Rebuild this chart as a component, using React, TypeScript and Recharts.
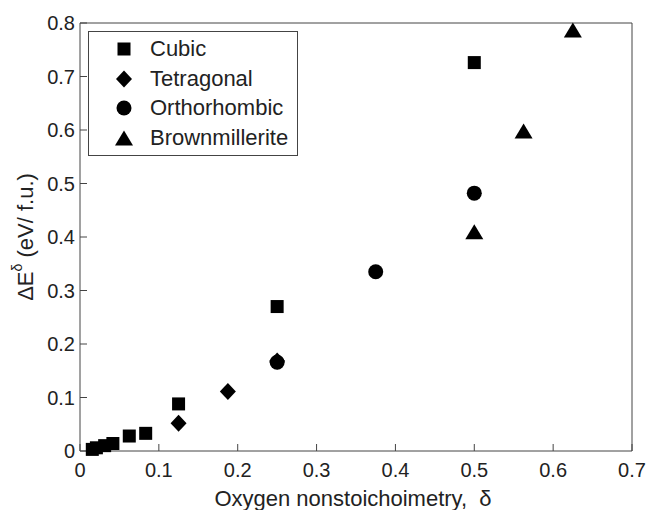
import { Legend, Scatter, ScatterChart, XAxis, YAxis } from "recharts";

const FONT = '"Liberation Sans", Arial, sans-serif';
const INK = "#222";
const AXIS_COLOR = "#444";

const X_TICKS = [0, 0.1, 0.2, 0.3, 0.4, 0.5, 0.6, 0.7];
const Y_TICKS = [0, 0.1, 0.2, 0.3, 0.4, 0.5, 0.6, 0.7, 0.8];

const cubicDelta = [0.0156, 0.0208, 0.03125, 0.0417, 0.0625, 0.0833, 0.125, 0.25, 0.5];
const cubicEnergy = [0.003, 0.006, 0.01, 0.014, 0.028, 0.033, 0.088, 0.27, 0.726];
const tetragonalDelta = [0.125, 0.1875, 0.25];
const tetragonalEnergy = [0.052, 0.111, 0.168];
const orthorhombicDelta = [0.25, 0.375, 0.5];
const orthorhombicEnergy = [0.166, 0.335, 0.482];
const brownmilleriteDelta = [0.5, 0.5625, 0.625];
const brownmilleriteEnergy = [0.41, 0.598, 0.787];

type Marker = "square" | "diamond" | "circle" | "triangle";

const toPoints = (xs: number[], ys: number[]) => xs.map((x, i) => ({ x, y: ys[i] }));

const SERIES: { name: string; marker: Marker; data: { x: number; y: number }[] }[] = [
  { name: "Cubic", marker: "square", data: toPoints(cubicDelta, cubicEnergy) },
  { name: "Tetragonal", marker: "diamond", data: toPoints(tetragonalDelta, tetragonalEnergy) },
  { name: "Orthorhombic", marker: "circle", data: toPoints(orthorhombicDelta, orthorhombicEnergy) },
  { name: "Brownmillerite", marker: "triangle", data: toPoints(brownmilleriteDelta, brownmilleriteEnergy) },
];

function MarkerGlyph({ marker, cx, cy }: { marker: Marker; cx: number; cy: number }) {
  if (marker === "square") return <rect x={cx - 6.5} y={cy - 6.5} width={13} height={13} fill="#000" />;
  if (marker === "diamond")
    return <polygon points={`${cx},${cy - 8.5} ${cx + 8},${cy} ${cx},${cy + 8.5} ${cx - 8},${cy}`} fill="#000" />;
  if (marker === "circle") return <circle cx={cx} cy={cy} r={7.5} fill="#000" />;
  return <polygon points={`${cx},${cy - 7.5} ${cx + 9},${cy + 7.5} ${cx - 9},${cy + 7.5}`} fill="#000" />;
}

function LegendBox() {
  return (
    <div
      style={{
        border: `1px solid ${AXIS_COLOR}`,
        background: "#fff",
        padding: "2px 0",
        fontFamily: FONT,
        fontSize: 22,
        color: INK,
      }}
    >
      {SERIES.map((s) => (
        <div key={s.name} style={{ display: "flex", alignItems: "center", height: 29.7 }}>
          <svg width={20} height={20} style={{ marginLeft: 25, marginRight: 16 }}>
            <MarkerGlyph marker={s.marker} cx={10} cy={10} />
          </svg>
          <span>{s.name}</span>
        </div>
      ))}
    </div>
  );
}

function YLabel(props: any) {
  const { viewBox } = props;
  const cx = 25;
  const cy = viewBox.y + viewBox.height / 2;
  return (
    <text
      x={cx}
      y={cy}
      transform={`rotate(-90, ${cx}, ${cy})`}
      textAnchor="middle"
      dominantBaseline="central"
      fontFamily={FONT}
      fontSize={22}
      fill={INK}
    >
      ΔE
      <tspan dy={-8} fontSize={14}>δ</tspan>
      <tspan dy={8}> (eV/ f.u.)</tspan>
    </text>
  );
}

function XLabel(props: any) {
  const { viewBox } = props;
  const cx = viewBox.x + viewBox.width / 2 - 3;
  return (
    <text x={cx} y={498} textAnchor="middle" dominantBaseline="central" fontFamily={FONT} fontSize={22} fill={INK}>
      Oxygen nonstoichoimetry,{"\u00a0\u00a0"}δ
    </text>
  );
}

const tickStyle = { fontSize: 20, fill: INK, fontFamily: FONT };

export default function App() {
  return (
    <div style={{ position: "absolute", left: 0, top: 0, background: "#fff" }}>
      <ScatterChart width={650} height={510} margin={{ top: 22, right: 17, bottom: 0, left: 0 }}>
        <XAxis
          type="number"
          dataKey="x"
          domain={[0, 0.7]}
          ticks={X_TICKS}
          tickFormatter={(v) => String(v)}
          height={59}
          tickSize={-7}
          tickMargin={19}
          tick={tickStyle}
          stroke={AXIS_COLOR}
          label={<XLabel />}
        />
        <XAxis
          xAxisId="top"
          orientation="top"
          type="number"
          domain={[0, 0.7]}
          ticks={X_TICKS}
          height={1}
          tickSize={-7}
          tick={false}
          stroke={AXIS_COLOR}
        />
        <YAxis
          type="number"
          dataKey="y"
          domain={[0, 0.8]}
          ticks={Y_TICKS}
          tickFormatter={(v) => String(v)}
          width={80}
          tickSize={-7}
          tickMargin={12}
          tick={tickStyle}
          stroke={AXIS_COLOR}
          label={<YLabel />}
        />
        <YAxis
          yAxisId="right"
          orientation="right"
          type="number"
          domain={[0, 0.8]}
          ticks={Y_TICKS}
          width={1}
          tickSize={-7}
          tick={false}
          stroke={AXIS_COLOR}
        />
        <Legend
          layout="vertical"
          align="center"
          verticalAlign="middle"
          content={() => <LegendBox />}
          wrapperStyle={{ left: 88, top: 31, width: 210, height: "auto" }}
        />
        {SERIES.map((s) => (
          <Scatter
            key={s.name}
            name={s.name}
            data={s.data}
            isAnimationActive={false}
            shape={(p: any) => <MarkerGlyph marker={s.marker} cx={p.cx} cy={p.cy} />}
          />
        ))}
      </ScatterChart>
    </div>
  );
}
